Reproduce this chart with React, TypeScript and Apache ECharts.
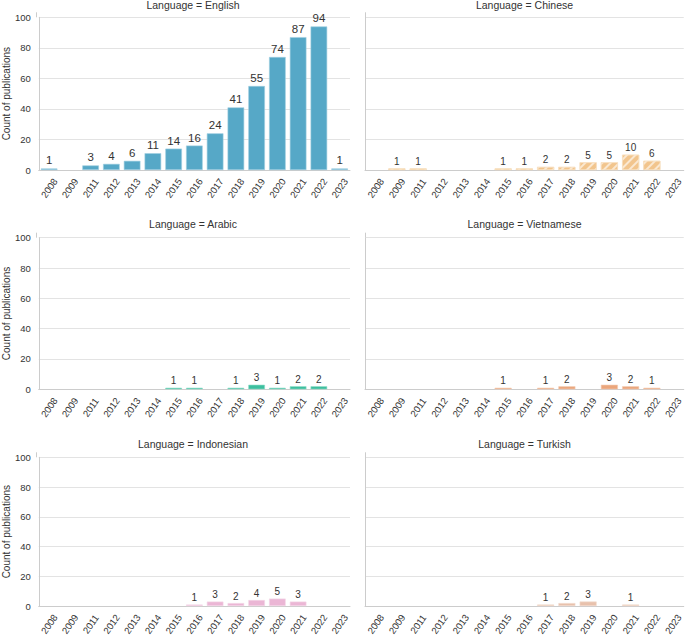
import React, { useEffect, useRef } from "react";
import * as echarts from "echarts";

const years = ["2008", "2009", "2011", "2012", "2013", "2014", "2015", "2016", "2017", "2018", "2019", "2020", "2021", "2022", "2023"];
const yTicks = [0, 20, 40, 60, 80, 100];

const english = [1, 0, 3, 4, 6, 11, 14, 16, 24, 41, 55, 74, 87, 94, 1];
const chinese = [0, 1, 1, 0, 0, 0, 1, 1, 2, 2, 5, 5, 10, 6, 0];
const arabic = [0, 0, 0, 0, 0, 0, 1, 1, 0, 1, 3, 1, 2, 2, 0];
const vietnamese = [0, 0, 0, 0, 0, 0, 1, 0, 1, 2, 0, 3, 2, 1, 0];
const indonesian = [0, 0, 0, 0, 0, 0, 0, 1, 3, 2, 4, 5, 3, 0, 0];
const turkish = [0, 0, 0, 0, 0, 0, 0, 0, 1, 2, 3, 0, 1, 0, 0];

const panels = [
  { name: "English", data: english, color: "#56a8c7", edge: "#9fcfe1", hatch: false, labelSize: 11.5 },
  { name: "Chinese", data: chinese, color: "#f2c58d", edge: "#f7dcb9", hatch: true, labelSize: 10 },
  { name: "Arabic", data: arabic, color: "#3dbf9f", edge: "#8fdcc8", hatch: false, labelSize: 10 },
  { name: "Vietnamese", data: vietnamese, color: "#eba67c", edge: "#f4cbb2", hatch: false, labelSize: 10 },
  { name: "Indonesian", data: indonesian, color: "#ebb6d5", edge: "#f4d6e7", hatch: false, labelSize: 10 },
  { name: "Turkish", data: turkish, color: "#e8c1ac", edge: "#f2dacd", hatch: false, labelSize: 10 },
];

const FONT = "Liberation Sans, Arial, sans-serif";
const TEXT = "#333333";

export default function App() {
  const ref = useRef<HTMLDivElement>(null);
  useEffect(() => {
    document.body.style.margin = "0";
    if (!ref.current) return;
    const chart = echarts.init(ref.current, null, { renderer: "svg" });
    const cols = [
      { left: 36, width: 314 },
      { left: 365, width: 319 },
    ];
    const rows = [
      { top: 17.3, height: 152.7, title: 5 },
      { top: 237.7, height: 151.6, title: 224 },
      { top: 457.3, height: 152, title: 444 },
    ];
    const grids: any[] = [];
    const xAxes: any[] = [];
    const yAxes: any[] = [];
    const series: any[] = [];
    const graphics: any[] = [];
    panels.forEach((p, i) => {
      const c = cols[i % 2];
      const r = rows[Math.floor(i / 2)];
      grids.push({ left: c.left, top: r.top, width: c.width, height: r.height });
      xAxes.push({
        type: "category",
        gridIndex: i,
        data: years,
        boundaryGap: true,
        axisLine: { show: true, lineStyle: { color: "#cccccc", width: 1 } },
        axisTick: { show: false },
        axisLabel: {
          interval: 0,
          rotate: 55,
          align: "center",
          verticalAlign: "middle",
          margin: 18,
          fontSize: 9.5,
          color: TEXT,
          fontFamily: FONT,
        },
      });
      yAxes.push({
        type: "value",
        gridIndex: i,
        min: yTicks[0],
        max: yTicks[yTicks.length - 1],
        interval: 20,
        name: i % 2 === 0 ? "Count of publications" : "",
        nameLocation: "middle",
        nameGap: 24,
        nameTextStyle: { fontSize: 10, color: TEXT, fontFamily: FONT },
        axisLine: { show: true, lineStyle: { color: "#cccccc", width: 1 } },
        axisTick: { show: false },
        axisLabel: {
          show: i % 2 === 0,
          fontSize: 9.5,
          color: TEXT,
          fontFamily: FONT,
          margin: 8,
        },
        splitLine: { show: true, lineStyle: { color: "#e3e3e3", width: 1 } },
      });
      const itemStyle: any = {
        color: p.color,
        borderColor: p.edge,
        borderWidth: 0.6,
      };
      if (p.hatch) {
        itemStyle.decal = {
          symbol: "rect",
          color: "rgba(255,255,255,0.6)",
          dashArrayX: [1, 0],
          dashArrayY: [1.5, 3.5],
          rotation: -Math.PI / 4,
        };
      }
      series.push({
        type: "bar",
        xAxisIndex: i,
        yAxisIndex: i,
        data: p.data.map((v) => (v ? v : null)),
        barCategoryGap: "20%",
        itemStyle,
        label: {
          show: true,
          position: "top",
          distance: 2,
          fontSize: p.labelSize,
          color: TEXT,
          fontFamily: FONT,
        },
      });
      graphics.push({
        type: "text",
        x: c.left + c.width / 2,
        y: r.title,
        style: {
          text: "Language = " + p.name,
          align: "center",
          verticalAlign: "middle",
          fontSize: 10.5,
          fontFamily: FONT,
          fill: TEXT,
        },
      });
      graphics.push({
        type: "line",
        shape: { x1: c.left + 0.5, y1: r.top - 5, x2: c.left + 0.5, y2: r.top },
        style: { stroke: "#cccccc", lineWidth: 1 },
      });
    });
    chart.setOption({
      animation: false,
      textStyle: { fontFamily: FONT },
      grid: grids,
      xAxis: xAxes,
      yAxis: yAxes,
      series,
      graphic: graphics,
    });
    return () => chart.dispose();
  }, []);
  return <div ref={ref} style={{ width: 685, height: 638 }} />;
}
